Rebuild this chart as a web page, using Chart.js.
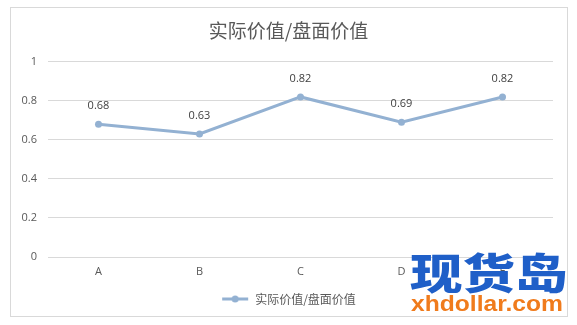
<!DOCTYPE html>
<html>
<head>
<meta charset="utf-8">
<script src="https://cdn.jsdelivr.net/npm/chart.js@4.4.1/dist/chart.umd.min.js"></script>
<style>
  html, body { margin: 0; padding: 0; background: #fff; }
  #wrap { position: relative; width: 577px; height: 325px; }
  canvas { display: block; }
  .wm { position: absolute; white-space: nowrap; transform-origin: left top; }
  #wm1 { left: 410px; top: 246px; font-size: 42px; color: #1f5fc8; line-height: 50px; font-family: "Noto Sans CJK SC", sans-serif; font-weight: 900; transform: scaleX(1.25); }
  #wm2 { left: 411px; top: 292px; font-size: 22px; color: #f07b1c; line-height: 24px; font-family: "Liberation Sans", sans-serif; font-weight: bold; transform: scaleX(1.12); }
</style>
</head>
<body>
<div id="wrap">
<canvas id="c" width="577" height="325"></canvas>
<div class="wm" id="wm1">现货岛</div>
<div class="wm" id="wm2">xhdollar.com</div>
</div>
<script>
const categories = ["A", "B", "C", "D", "E"];
const values = [0.68, 0.63, 0.82, 0.69, 0.82];
const seriesName = "实际价值/盘面价值";
const chartTitle = "实际价值/盘面价值";

const lineColor = "#93b1d2";
const textColor = "#595959";
const cjk = '"Noto Sans CJK SC", "Open Sans", sans-serif';
const latin = '"Open Sans", "Noto Sans", sans-serif';

// legend symbol: short line with a dot
const sym = document.createElement("canvas");
sym.width = 28; sym.height = 10;
(function () {
  const g = sym.getContext("2d");
  g.strokeStyle = lineColor; g.lineWidth = 3;
  g.beginPath(); g.moveTo(1, 5); g.lineTo(27, 5); g.stroke();
  g.fillStyle = lineColor;
  g.beginPath(); g.arc(14, 5, 3.5, 0, Math.PI * 2); g.fill();
})();

const borderPlugin = {
  id: "frame",
  beforeDraw(chart) {
    const ctx = chart.ctx;
    ctx.save();
    ctx.fillStyle = "#fff";
    ctx.fillRect(0, 0, chart.width, chart.height);
    ctx.strokeStyle = "#d9d9d9";
    ctx.lineWidth = 1;
    ctx.strokeRect(10.5, 7.5, 557, 309);
    ctx.restore();
  }
};

const labelPlugin = {
  id: "valueLabels",
  afterDatasetsDraw(chart) {
    const ctx = chart.ctx;
    const meta = chart.getDatasetMeta(0);
    ctx.save();
    ctx.font = "11px " + latin;
    ctx.fillStyle = "#404040";
    ctx.textAlign = "center";
    ctx.textBaseline = "middle";
    meta.data.forEach((pt, i) => {
      ctx.fillText(values[i].toFixed(2), pt.x, pt.y - 18);
    });
    ctx.restore();
  }
};

new Chart(document.getElementById("c"), {
  type: "line",
  data: {
    labels: categories,
    datasets: [{
      label: seriesName,
      data: values,
      borderColor: lineColor,
      backgroundColor: lineColor,
      borderWidth: 3,
      pointRadius: 3.5,
      pointBackgroundColor: lineColor,
      pointBorderWidth: 0,
      tension: 0
    }]
  },
  options: {
    responsive: false,
    animation: false,
    layout: { padding: { left: 0, right: 0, top: 0, bottom: 10 } },
    plugins: {
      title: {
        display: true,
        text: chartTitle,
        color: textColor,
        font: { family: cjk, size: 19, weight: "normal" },
        padding: { top: 19, bottom: 20 }
      },
      legend: {
        position: "bottom",
        labels: {
          color: textColor,
          font: { family: cjk, size: 12 },
          usePointStyle: true,
          pointStyleWidth: 28,
          padding: 10,
          generateLabels: (chart) => [{
            text: seriesName,
            pointStyle: sym,
            fillStyle: lineColor,
            strokeStyle: lineColor,
            lineWidth: 0,
            fontColor: textColor,
            datasetIndex: 0,
            hidden: false
          }]
        }
      },
      tooltip: { enabled: false }
    },
    scales: {
      x: {
        offset: true,
        grid: { display: false, drawTicks: false },
        border: { display: true, color: "#d9d9d9" },
        ticks: { color: textColor, font: { family: latin, size: 11 }, padding: 8 },
        afterFit(s) { s.height = 26; }
      },
      y: {
        min: 0,
        max: 1,
        grid: { color: "#d9d9d9", drawTicks: false },
        border: { display: false },
        ticks: {
          stepSize: 0.2,
          color: textColor,
          font: { family: latin, size: 11 },
          padding: 11,
          callback: (v) => (Math.round(v * 10) / 10).toString()
        },
        afterFit(s) { s.width = 48; }
      },
      yRight: {
        position: "right",
        display: true,
        min: 0,
        max: 1,
        grid: { display: false, drawTicks: false },
        border: { display: false },
        ticks: { display: false },
        afterFit(s) { s.width = 24; }
      }
    }
  },
  plugins: [borderPlugin, labelPlugin]
});
</script>
</body>
</html>
